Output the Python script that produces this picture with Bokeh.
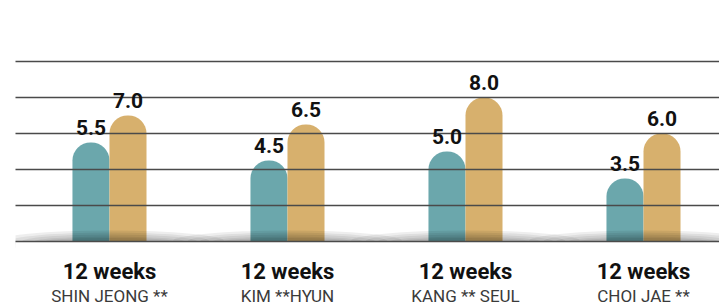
from bokeh.plotting import figure
from bokeh.models import Range1d, FixedTicker, ColumnDataSource
from bokeh.transform import dodge
from bokeh.core.properties import value
from bokeh.embed import file_html
from bokeh.resources import INLINE

# ---- data ----
names = ["SHIN JEONG **", "KIM **HYUN", "KANG ** SEUL", "CHOI JAE **"]
periods = ["12 weeks", "12 weeks", "12 weeks", "12 weeks"]
before = [5.5, 4.5, 5.0, 3.5]
after = [7.0, 6.5, 8.0, 6.0]
grid_ticks = [0, 2, 4, 6, 8, 10]

TEAL = "#6ba7ac"
TAN = "#d7b06d"

idx = list(range(len(names)))
src = ColumnDataSource(dict(
    x=idx, names=names, periods=periods, before=before, after=after,
    before_lbl=[f"{v:.1f}" for v in before],
    after_lbl=[f"{v:.1f}" for v in after],
    zero=[0] * len(names),
))

p = figure(width=719, height=306, output_backend="svg", toolbar_location=None,
           x_range=Range1d(-0.528, 3.427), y_range=Range1d(-3.611, 13.389),
           min_border_left=15, min_border_right=0, min_border_top=0, min_border_bottom=0)
p.outline_line_color = None
p.background_fill_color = "white"
p.border_fill_color = "white"
p.xaxis.visible = False
p.yaxis.visible = False
p.xgrid.visible = False
p.ygrid.ticker = FixedTicker(ticks=grid_ticks)
p.ygrid.grid_line_color = "#4a4a4a"
p.ygrid.grid_line_width = 1.5
p.ygrid.level = "annotation"

bw = 0.208
p.vbar(x=dodge("x", -bw / 2), top="before", bottom=0, width=bw, source=src,
       fill_color=TEAL, line_color=None, border_radius=(18, 18, 0, 0))
p.vbar(x=dodge("x", bw / 2), top="after", bottom=0, width=bw, source=src,
       fill_color=TAN, line_color=None, border_radius=(18, 18, 0, 0))

# soft base shadow
for w, h in [(230, 22), (200, 18), (175, 14), (150, 10), (130, 7)]:
    p.ellipse(x="x", y="zero", width=w, height=h, width_units="screen",
              height_units="screen", source=src, fill_color="black",
              fill_alpha=0.065, line_color=None)
p.quad(left=-1, right=5, top=0, bottom=-5, fill_color="white", line_color=None)

# value labels
p.text(x=dodge("x", -bw / 2), y="before", text="before_lbl", source=src,
       text_font=value("Roboto"), text_font_style="bold", text_font_size="21px",
       text_align="center", text_baseline="alphabetic", y_offset=-15,
       text_color="#111111", level="overlay")
p.text(x=dodge("x", bw / 2), y="after", text="after_lbl", source=src,
       text_font=value("Roboto"), text_font_style="bold", text_font_size="21px",
       text_align="center", text_baseline="alphabetic", y_offset=-15,
       text_color="#111111", level="overlay")

# category labels
p.text(x="x", y="zero", text="periods", source=src,
       text_font=value("Roboto"), text_font_style="bold", text_font_size="22px",
       text_align="center", text_baseline="alphabetic", y_offset=30,
       text_color="#111111", level="overlay")
p.text(x="x", y="zero", text="names", source=src,
       text_font=value("Roboto"), text_font_size="17px",
       text_align="center", text_baseline="alphabetic", y_offset=54,
       text_color="#3a3a3a", level="overlay")

open("out.html", "w").write(file_html(p, INLINE))
